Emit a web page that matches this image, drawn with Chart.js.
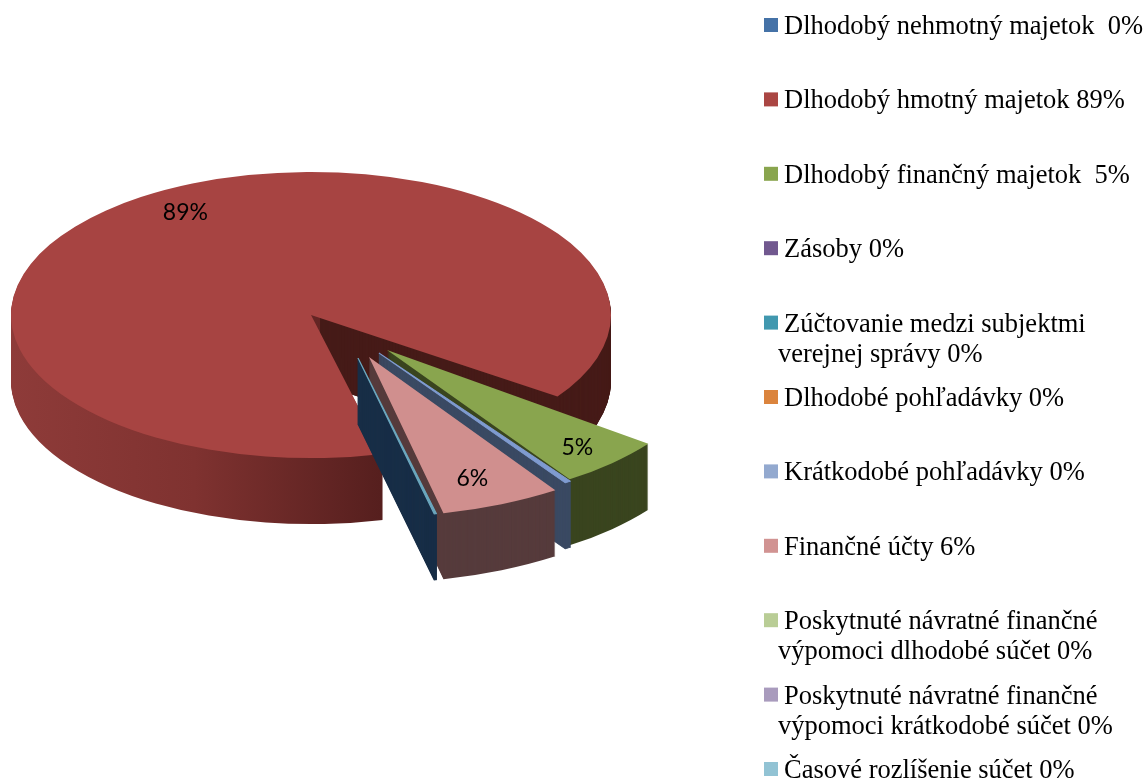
<!DOCTYPE html>
<html>
<head>
<meta charset="utf-8">
<title>Majetok</title>
<script src="https://cdn.jsdelivr.net/npm/chart.js@4"></script>
<style>
  html, body { margin: 0; padding: 0; background: #fff; }
  canvas { display: block; }
</style>
</head>
<body>
<canvas id="pieChart" width="1147" height="780"></canvas>
<script>
// data
const categories = [
    'Dlhodobý nehmotný majetok',
    'Dlhodobý hmotný majetok',
    'Dlhodobý finančný majetok',
    'Zásoby',
    'Zúčtovanie medzi subjektmi verejnej správy',
    'Dlhodobé pohľadávky',
    'Krátkodobé pohľadávky',
    'Finančné účty',
    'Poskytnuté návratné finančné výpomoci dlhodobé súčet',
    'Poskytnuté návratné finančné výpomoci krátkodobé súčet',
    'Časové rozlíšenie súčet'
];
const values = [0.1, 88.5, 5.3, 0, 0, 0, 0.3, 5.8, 0, 0, 0];
const sliceLabels = ['', '89%', '5%', '', '', '', '', '6%', '', '', ''];
const legendLines = [
    ['Dlhodobý nehmotný majetok  0%'],
    ['Dlhodobý hmotný majetok 89%'],
    ['Dlhodobý finančný majetok  5%'],
    ['Zásoby 0%'],
    ['Zúčtovanie medzi subjektmi', 'verejnej správy 0%'],
    ['Dlhodobé pohľadávky 0%'],
    ['Krátkodobé pohľadávky 0%'],
    ['Finančné účty 6%'],
    ['Poskytnuté návratné finančné', 'výpomoci dlhodobé súčet 0%'],
    ['Poskytnuté návratné finančné', 'výpomoci krátkodobé súčet 0%'],
    ['Časové rozlíšenie súčet 0%']
];

// colours
const legendColors = ['#4572a7', '#aa4643', '#89a54e', '#71588f', '#4198af', '#db843d', '#93a9cf', '#d19392', '#b9cd96', '#a99bbd', '#92c3d4'];
const topColors = ['#6ba6bd', '#a74442', '#89a54e', '#71588f', '#4198af', '#db843d', '#7f9bd0', '#d08f8e', '#b9cd96', '#a99bbd', '#92c3d4'];
const wallColors = ['#182e47', null, '#3a451f', '#3a2c4a', '#214d59', '#6e421e', '#3b4a63', '#563b3c', '#5d6750', '#554e5f', '#49626a'];

// fake 3D: squash, wall height, and how each slice is pulled out (dx, dy in px, rot in deg, scale)
const squash = 0.477;
const pieCenterY = 315;
const wallDepth = 66;
const pull = {
    0: { dx: 47, dy: 43, rot: 0.2, scale: 1.12 },
    1: { dx: 0, dy: 0, rot: -0.5, scale: 1 },
    2: { dx: 76, dy: 35, rot: 1.7, scale: 1.09 },
    6: { dx: 68, dy: 38, rot: 0.2, scale: 1.1 },
    7: { dx: 58, dy: 42, rot: 0.9, scale: 1.12 }
};
// label radius and small angle nudge per slice
const labelSpot = {
    1: { r: 248, da: 4.1 },
    2: { r: 256, da: 0.5 },
    7: { r: 246, da: 1.2 }
};
const drawOrder = [1, 2, 3, 4, 5, 6, 7, 8, 9, 10, 0];
const thinSlices = [0, 6]; // need an outline or they fade out when antialiased

function placeSlice(ctx, el, i, depth) {
    const p = pull[i] || { dx: 0, dy: 0, rot: 0, scale: 1 };
    ctx.translate(el.x + p.dx, pieCenterY + p.dy + depth);
    ctx.scale(1, squash);
    ctx.rotate(p.rot * Math.PI / 180);
    ctx.scale(p.scale, p.scale);
    ctx.translate(-el.x, -el.y);
}

function drawWithColor(ctx, el, color, outline) {
    const saved = el.options;
    el.options = Object.assign({}, saved, {
        backgroundColor: color,
        borderColor: color,
        borderWidth: outline ? 1.2 : 0
    });
    el.draw(ctx);
    el.options = saved;
}

const fakePie3d = {
    id: 'fakePie3d',
    beforeDatasetsDraw(chart) {
        const ctx = chart.ctx;
        const arcs = chart.getDatasetMeta(0).data;

        // shading of the big slice wall goes dark from left to right
        const grad = ctx.createLinearGradient(12, 0, 612, 0);
        grad.addColorStop(0, '#8e3b39');
        grad.addColorStop(0.3, '#7f3230');
        grad.addColorStop(0.61, '#561f1e');
        grad.addColorStop(0.75, '#451b18');
        grad.addColorStop(1, '#401a16');

        drawOrder.forEach(i => {
            const el = arcs[i];
            if (values[i] === 0) return;
            const thin = thinSlices.includes(i);
            for (let k = wallDepth; k > 0; k--) {
                ctx.save();
                placeSlice(ctx, el, i, k);
                drawWithColor(ctx, el, i === 1 ? grad : wallColors[i], thin);
                ctx.restore();
            }
            if (i === 1) {
                // cut wall behind the gap is flat dark, not part of the shaded rim
                ctx.save();
                ctx.beginPath();
                ctx.rect(320, 300, 300, 130);
                ctx.clip();
                for (let k = wallDepth; k > 0; k--) {
                    ctx.save();
                    placeSlice(ctx, el, i, k);
                    drawWithColor(ctx, el, '#461b18', false);
                    ctx.restore();
                }
                ctx.restore();
            }
            ctx.save();
            placeSlice(ctx, el, i, 0);
            drawWithColor(ctx, el, topColors[i], thin);
            ctx.restore();
        });
        return false; // default flat pie is not wanted
    },
    afterDraw(chart) {
        const ctx = chart.ctx;
        const arcs = chart.getDatasetMeta(0).data;

        // percent labels on the slices
        ctx.save();
        ctx.fillStyle = '#000';
        ctx.font = '23px Lato';
        ctx.textAlign = 'center';
        ctx.textBaseline = 'middle';
        Object.keys(labelSpot).forEach(key => {
            const i = Number(key);
            const el = arcs[i];
            const p = pull[i];
            const spot = labelSpot[i];
            const a = (el.startAngle + el.endAngle) / 2 + (p.rot + spot.da) * Math.PI / 180;
            const r = spot.r * p.scale;
            const x = el.x + p.dx + Math.cos(a) * r;
            const y = pieCenterY + p.dy + Math.sin(a) * r * squash;
            ctx.fillText(sliceLabels[i], x, y);
        });
        ctx.restore();

        // legend on the right
        ctx.save();
        ctx.textAlign = 'left';
        ctx.textBaseline = 'alphabetic';
        ctx.font = '26.5px "Liberation Serif"';
        legendLines.forEach((lines, i) => {
            const baseY = 34 + 74.4 * i;
            ctx.fillStyle = legendColors[i];
            ctx.fillRect(764, baseY - 16, 14, 14);
            ctx.fillStyle = '#000';
            lines.forEach((line, n) => {
                ctx.fillText(line, n === 0 ? 784 : 778, baseY + n * 30);
            });
        });
        ctx.restore();
    }
};

const ctx = document.getElementById('pieChart').getContext('2d');
new Chart(ctx, {
    type: 'pie',
    data: {
        labels: categories,
        datasets: [{ data: values, backgroundColor: topColors, borderWidth: 0 }]
    },
    options: {
        responsive: false,
        animation: false,
        rotation: 166.3,
        radius: 300,
        layout: { padding: { right: 525 } },
        plugins: { legend: { display: false }, tooltip: { enabled: false } }
    },
    plugins: [fakePie3d]
});
</script>
</body>
</html>
